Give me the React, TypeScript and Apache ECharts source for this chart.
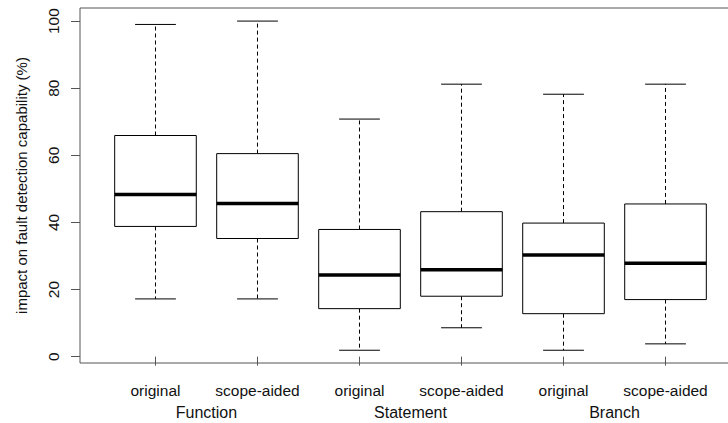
import React, { useEffect, useRef } from "react";
import * as echarts from "echarts";

const categories = ["original", "scope-aided", "original", "scope-aided", "original", "scope-aided"];
const groups = ["Function", "Statement", "Branch"];
const groupCenters = [1.5, 3.5, 5.5];
const whiskerLow = [17.2, 17.2, 1.9, 8.6, 1.9, 3.8];
const q1 = [38.8, 35.2, 14.3, 18.0, 12.8, 17.0];
const median = [48.3, 45.6, 24.3, 25.9, 30.3, 27.8];
const q3 = [65.9, 60.5, 37.9, 43.2, 39.8, 45.5];
const whiskerHigh = [99.0, 100, 70.8, 81.2, 78.2, 81.2];
const yTicks = [0, 20, 40, 60, 80, 100];
const yTitle = "impact on fault detection capability (%)";

const FONT = "'Liberation Sans', Arial, Helvetica, sans-serif";

export default function App() {
  const ref = useRef<HTMLDivElement>(null);
  useEffect(() => {
    document.body.style.margin = "0";
    if (!ref.current) return;
    const chart = echarts.init(ref.current, undefined, { renderer: "svg" });
    const data = categories.map((_, i) => [i + 1, whiskerLow[i], q1[i], median[i], q3[i], whiskerHigh[i]]);
    chart.setOption({
      animation: false,
      backgroundColor: "#fff",
      grid: {
        left: 80,
        top: 8,
        width: 661,
        height: 355,
        outerBoundsMode: "none",
        containLabel: false,
        show: true,
        borderColor: "#555",
        borderWidth: 1,
        backgroundColor: "transparent",
      },
      xAxis: [
        {
          type: "value",
          min: 0.26,
          max: 6.74,
          position: "bottom",
          splitLine: { show: false },
          axisLine: { show: false },
          axisTick: {
            show: true,
            customValues: categories.map((_, i) => i + 1),
            length: 9,
            lineStyle: { color: "#555", width: 1 },
          },
          axisLabel: {
            customValues: categories.map((_, i) => i + 1),
            formatter: (v: number) => categories[Math.round(v) - 1] ?? "",
            margin: 19,
            fontSize: 15.5,
            color: "#111",
            fontFamily: FONT,
          },
        },
        {
          type: "value",
          min: 0.26,
          max: 6.74,
          position: "bottom",
          splitLine: { show: false },
          axisLine: { show: false },
          axisTick: { show: false },
          axisLabel: {
            customValues: groupCenters,
            formatter: (v: number) => groups[groupCenters.indexOf(v)] ?? "",
            margin: 41,
            fontSize: 16,
            color: "#111",
            fontFamily: FONT,
          },
        },
      ],
      yAxis: {
        type: "value",
        min: -1.9,
        max: 103.9,
        splitLine: { show: false },
        axisLine: { show: false },
        axisTick: {
          show: true,
          customValues: yTicks,
          length: 9,
          lineStyle: { color: "#555", width: 1 },
        },
        axisLabel: {
          customValues: yTicks,
          rotate: 90,
          margin: 19,
          fontSize: 15.5,
          color: "#111",
          fontFamily: FONT,
        },
        name: yTitle,
        nameLocation: "middle",
        nameGap: 51,
        nameTextStyle: { fontSize: 15, color: "#111", fontFamily: FONT },
      },
      series: [
        {
          type: "custom",
          xAxisIndex: 0,
          data,
          encode: { x: 0, y: [1, 2, 3, 4, 5] },
          renderItem: (params: any, api: any) => {
            const x = api.value(0);
            const lo = api.value(1);
            const a = api.value(2);
            const m = api.value(3);
            const b = api.value(4);
            const hi = api.value(5);
            const boxL = api.coord([x - 0.4, b]);
            const boxR = api.coord([x + 0.4, a]);
            const cx = api.coord([x, m])[0];
            const capL = api.coord([x - 0.2, lo])[0];
            const capR = api.coord([x + 0.2, lo])[0];
            const yLo = api.coord([x, lo])[1];
            const yHi = api.coord([x, hi])[1];
            const yA = boxR[1];
            const yB = boxL[1];
            const yM = api.coord([x, m])[1];
            const dash = { stroke: "#000", lineWidth: 1, lineDash: [4, 3] };
            const solid = { stroke: "#000", lineWidth: 1 };
            return {
              type: "group",
              children: [
                { type: "line", shape: { x1: cx, y1: yB, x2: cx, y2: yHi }, style: dash },
                { type: "line", shape: { x1: cx, y1: yA, x2: cx, y2: yLo }, style: dash },
                { type: "line", shape: { x1: capL, y1: yHi, x2: capR, y2: yHi }, style: solid },
                { type: "line", shape: { x1: capL, y1: yLo, x2: capR, y2: yLo }, style: solid },
                {
                  type: "rect",
                  shape: { x: boxL[0], y: yB, width: boxR[0] - boxL[0], height: yA - yB },
                  style: { fill: "#fff", stroke: "#000", lineWidth: 1 },
                },
                {
                  type: "line",
                  shape: { x1: boxL[0], y1: yM, x2: boxR[0], y2: yM },
                  style: { stroke: "#000", lineWidth: 3.5 },
                },
              ],
            };
          },
        },
      ],
    });
    return () => chart.dispose();
  }, []);
  return <div ref={ref} style={{ width: 728, height: 423, position: "absolute", left: 0, top: 0 }} />;
}
